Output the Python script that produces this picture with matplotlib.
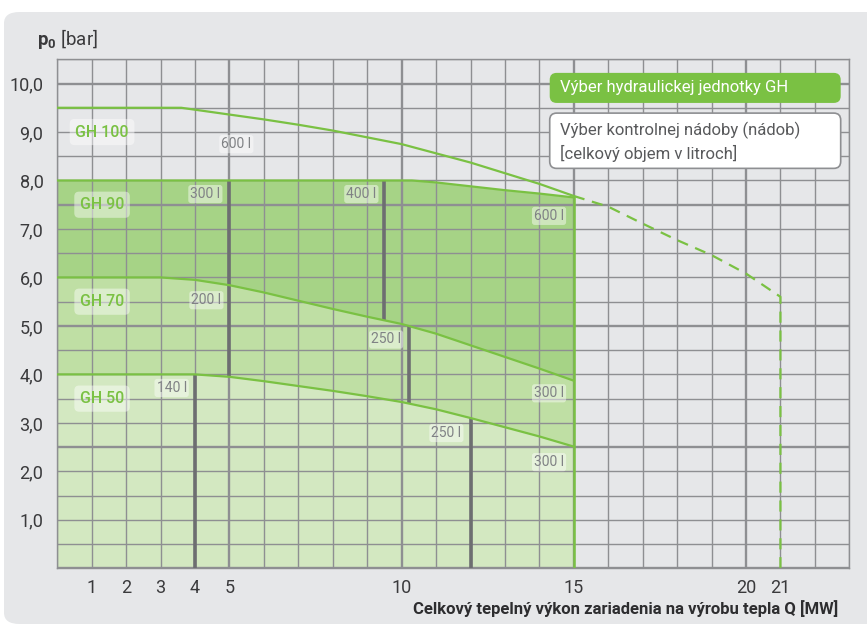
import numpy as np
import matplotlib.pyplot as plt
from matplotlib.patches import FancyBboxPatch

plt.rcParams['font.family'] = ['Roboto', 'DejaVu Sans']
plt.rcParams['mathtext.fontset'] = 'custom'
plt.rcParams['mathtext.rm'] = 'Roboto'
plt.rcParams['mathtext.bf'] = 'Roboto:bold'

# krivky hydraulickych jednotiek (Q [MW], p0 [bar])
gh100_x = [0, 3.6, 4, 5, 6, 7, 8, 9, 10, 11, 12, 13, 14, 15]
gh100_y = [9.5, 9.5, 9.46, 9.36, 9.26, 9.15, 9.03, 8.89, 8.75, 8.56, 8.37, 8.15, 7.93, 7.68]
gh100_ext_x = [15, 16, 17, 18, 19, 20, 21, 21]
gh100_ext_y = [7.68, 7.46, 7.11, 6.77, 6.46, 6.08, 5.6, 0]
gh90_x = [0, 10.3, 11, 12, 13, 14, 15]
gh90_y = [8.0, 8.0, 7.96, 7.88, 7.80, 7.73, 7.65]
gh70_x = [0, 3, 4, 5, 6, 7, 8, 9, 10, 11, 12, 13, 14, 15]
gh70_y = [6.0, 6.0, 5.95, 5.84, 5.69, 5.52, 5.35, 5.19, 5.04, 4.84, 4.60, 4.36, 4.12, 3.87]
gh50_x = [0, 4, 5, 6, 7, 8, 9, 10, 11, 12, 13, 14, 15]
gh50_y = [4.0, 4.0, 3.95, 3.86, 3.76, 3.66, 3.55, 3.43, 3.28, 3.10, 2.91, 2.72, 2.51]

gh_names = ['GH 100', 'GH 90', 'GH 70', 'GH 50']
gh_label_y = [9.0, 7.5, 5.5, 3.5]

# hranice kontrolnych nadob: x, dolna krivka, horna krivka
vol_x = [4, 5, 9.5, 10.22, 12]
vol_low = ['0', 'gh50', 'gh70', 'gh50', '0']
vol_high = ['gh50', 'gh90', 'gh90', 'gh70', 'gh50']

vol_labels = ['600 l', '300 l', '400 l', '600 l', '200 l', '250 l', '300 l', '140 l', '250 l', '300 l']
vol_lab_x = [5.2, 4.3, 8.83, 14.28, 4.33, 9.55, 14.28, 3.32, 11.3, 14.28]
vol_lab_y = [8.75, 7.72, 7.72, 7.27, 5.53, 4.72, 3.61, 3.72, 2.79, 2.19]

xtick_vals = [1, 2, 3, 4, 5, 10, 15, 20, 21]
ytick_vals = [1, 2, 3, 4, 5, 6, 7, 8, 9, 10]

green = '#7ac143'
grid_c = '#8e8f92'
bg = '#e6e7e9'

fig = plt.figure(figsize=(8.67, 6.26), dpi=100)
fig.patch.set_facecolor('white')
panel = FancyBboxPatch((4 / 867, 2 / 626), 880 / 867, 612 / 626,
                       boxstyle='round,pad=0,rounding_size=0.018',
                       transform=fig.transFigure, facecolor=bg, edgecolor='none', zorder=-10)
fig.patches.append(panel)

ax = fig.add_axes([57.3 / 867, 1 - 568.3 / 626, 792 / 867, 509 / 626])
ax.set_facecolor('none')
ax.set_xlim(0, 23)
ax.set_ylim(0, 10.5)

xs = np.linspace(0, 15, 301)
c50 = np.interp(xs, gh50_x, gh50_y)
c70 = np.interp(xs, gh70_x, gh70_y)
c90 = np.interp(xs, gh90_x, gh90_y)
ax.fill_between(xs, 0, c50, color='#d3e8c1', lw=0, zorder=1)
ax.fill_between(xs, c50, c70, color='#bfdfa4', lw=0, zorder=1)
ax.fill_between(xs, c70, c90, color='#a6d386', lw=0, zorder=1)

# mriezka
for x in range(0, 24):
    ax.axvline(x, color=grid_c, lw=1.7 if x % 5 == 0 else 1.0, zorder=2)
for y in np.arange(0, 10.51, 0.5):
    ax.axhline(y, color=grid_c, lw=1.7 if y % 2.5 == 0 else 1.0, zorder=2)

# zvisle ciary nadob
curves = {'gh50': (gh50_x, gh50_y), 'gh70': (gh70_x, gh70_y), 'gh90': (gh90_x, gh90_y)}
def level(name, x):
    if name == '0':
        return 0
    cx, cy = curves[name]
    return np.interp(x, cx, cy)

for x, lo, hi in zip(vol_x, vol_low, vol_high):
    ax.plot([x, x], [level(lo, x), level(hi, x)], color='#6d6e71', lw=2.6, zorder=3,
            solid_capstyle='butt')

# krivky
ax.plot(gh100_x, gh100_y, color=green, lw=1.6, zorder=4)
ax.plot(gh100_ext_x, gh100_ext_y, color=green, lw=1.6, ls=(0, (5, 3.5)), zorder=4)
ax.plot(gh90_x, gh90_y, color=green, lw=1.6, zorder=4)
ax.plot(gh70_x, gh70_y, color=green, lw=1.6, zorder=4)
ax.plot(gh50_x, gh50_y, color=green, lw=1.6, zorder=4)
ax.plot([15, 15], [0, gh90_y[-1]], color=green, lw=1.8, zorder=4)

for name, y in zip(gh_names, gh_label_y):
    ax.text(1.3, y, name, color=green, fontsize=11.5, fontweight='medium', ha='center',
            va='center', zorder=6,
            bbox=dict(boxstyle='round,pad=0.35,rounding_size=0.3', fc='white', ec='none', alpha=0.45))

for t, x, y in zip(vol_labels, vol_lab_x, vol_lab_y):
    ax.text(x, y, t, color='#808285', fontsize=10, ha='center', va='center', zorder=6,
            bbox=dict(boxstyle='round,pad=0.15,rounding_size=0.2', fc='white', ec='none', alpha=0.45))

# legenda
ax.add_patch(FancyBboxPatch((14.3, 9.6), 8.45, 0.62, boxstyle='round,pad=0,rounding_size=0.2',
                            mutation_aspect=1 / 1.4, fc=green, ec='none', zorder=7))
ax.text(14.6, 9.91, 'Výber hydraulickej jednotky GH', color='white', fontsize=12,
        ha='left', va='center', zorder=8)
ax.add_patch(FancyBboxPatch((14.3, 8.25), 8.45, 1.14, boxstyle='round,pad=0,rounding_size=0.2',
                            mutation_aspect=1 / 1.4, fc='white', ec='#8e8f92', lw=1.2, zorder=7))
ax.text(14.6, 8.8, 'Výber kontrolnej nádoby (nádob)\n[celkový objem v litroch]', color='#58595b',
        fontsize=12, ha='left', va='center', linespacing=1.45, zorder=8)

ax.set_xticks(xtick_vals)
ax.set_xticklabels([str(v) for v in xtick_vals])
ax.set_yticks(ytick_vals)
ax.set_yticklabels([f'{v:.1f}'.replace('.', ',') for v in ytick_vals])
ax.tick_params(length=0, labelsize=13, colors='#3a3a3c')
ax.tick_params(axis='y', pad=10)
ax.tick_params(axis='x', pad=8)
for s in ax.spines.values():
    s.set_color(grid_c)
    s.set_linewidth(1.0)

fig.text(37 / 867, 1 - 39 / 626, r'$\mathbf{p_0}$ [bar]', fontsize=13.5, color='#3a3a3c',
         ha='left', va='center')
fig.text(838 / 867, 1 - 609 / 626, 'Celkový tepelný výkon zariadenia na výrobu tepla Q [MW]',
         fontsize=12, fontweight='bold', color='#2d2d2f', ha='right', va='center')

fig.savefig('out.png', dpi=100)
